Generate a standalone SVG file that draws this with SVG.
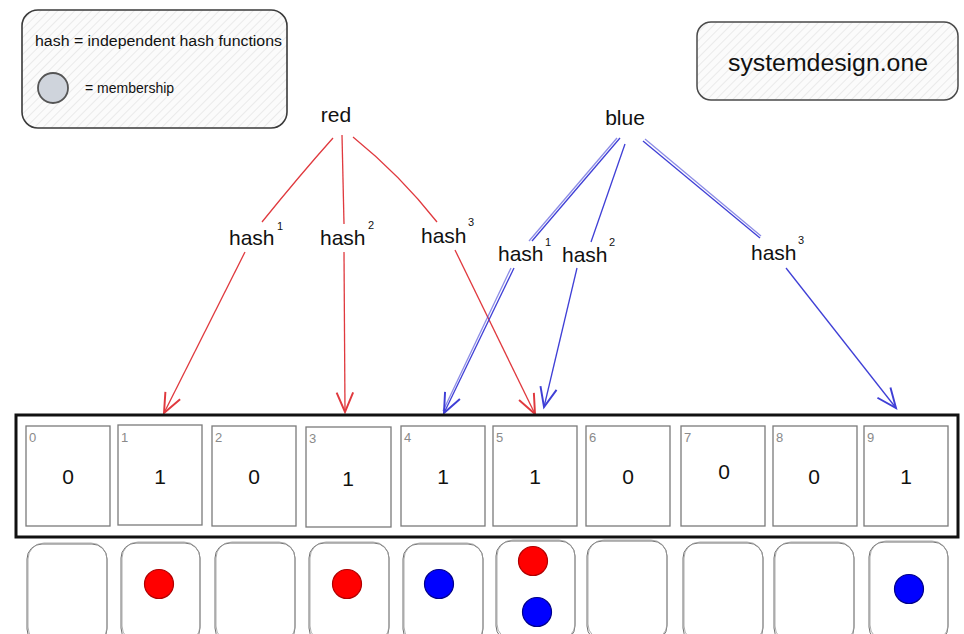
<svg xmlns="http://www.w3.org/2000/svg" width="964" height="634" viewBox="0 0 964 634">
  <defs>
    <pattern id="hatch" patternUnits="userSpaceOnUse" width="6" height="6" patternTransform="rotate(45)">
      <line x1="0" y1="0" x2="0" y2="6" stroke="#d9d9d9" stroke-width="1"/>
    </pattern>
    <marker id="head-red" markerUnits="userSpaceOnUse" markerWidth="30" markerHeight="30" viewBox="-16 -10 20 20" refX="0" refY="0" orient="auto">
      <path d="M-13,-5.5 L0,0 L-13,5.5" fill="none" stroke="#e0393e" stroke-width="1.3"/>
    </marker>
    <marker id="head-blue" markerUnits="userSpaceOnUse" markerWidth="30" markerHeight="30" viewBox="-16 -10 20 20" refX="0" refY="0" orient="auto">
      <path d="M-13,-5.5 L0,0 L-13,5.5" fill="none" stroke="#3f3fd6" stroke-width="1.3"/>
    </marker>
  </defs>
  <style>
    text { font-family: "Liberation Sans", Arial, sans-serif; fill: #111; }
    .label { font-size: 21px; }
    .sup { font-size: 11px; }
    .idx { font-size: 13px; fill: #8a8a8a; }
    .val { font-size: 21px; text-anchor: middle; }
    .cell { fill: #fff; stroke: #7a7a7a; stroke-width: 1.3; }
    .slot { fill: #fff; stroke: #707070; stroke-width: 1; }
    .slot2 { fill: none; stroke: #9a9a9a; stroke-width: 0.8; }
    .red-line { fill: none; stroke: #e0393e; stroke-width: 1.3; }
    .blue-line { fill: none; stroke: #3f3fd6; stroke-width: 1.3; }
    .red-dot { fill: #ff0000; stroke: #b00000; stroke-width: 1.2; }
    .blue-dot { fill: #0000ff; stroke: #00008a; stroke-width: 1.2; }
  </style>

  <rect width="964" height="634" fill="#fff"/>

  <!-- legend -->
  <g id="legend">
    <rect x="22" y="10" width="265" height="118" rx="16" fill="#fbfbfb"/>
    <rect x="22" y="10" width="265" height="118" rx="16" fill="url(#hatch)" stroke="#3a3a3a" stroke-width="1.6"/>
    <text x="35" y="46" font-size="14" textLength="247" lengthAdjust="spacingAndGlyphs">hash = independent hash functions</text>
    <circle cx="53" cy="88" r="15" fill="#cfd4dc" stroke="#555" stroke-width="1.8"/>
    <text x="85" y="93" font-size="14">= membership</text>
  </g>

  <!-- site tag -->
  <g id="brand">
    <rect x="697" y="22" width="261" height="78" rx="14" fill="#fbfbfb"/>
    <rect x="697" y="22" width="261" height="78" rx="14" fill="url(#hatch)" stroke="#4a4a4a" stroke-width="1.5"/>
    <text x="828" y="71" font-size="23" text-anchor="middle" textLength="200" lengthAdjust="spacingAndGlyphs">systemdesign.one</text>
  </g>

  <!-- input keys -->
  <g id="key-red"><text class="label" x="336" y="122" text-anchor="middle" font-size="22">red</text></g>
  <g id="key-blue"><text class="label" x="625" y="125" text-anchor="middle" font-size="22">blue</text></g>

  <!-- hash function labels -->
  <g id="red-hash1"><text class="label" x="229" y="245">hash</text><text class="sup" x="277" y="230">1</text></g>
  <g id="red-hash2"><text class="label" x="320" y="245">hash</text><text class="sup" x="368" y="229">2</text></g>
  <g id="red-hash3"><text class="label" x="421" y="243">hash</text><text class="sup" x="468" y="226">3</text></g>
  <g id="blue-hash1"><text class="label" x="498" y="261">hash</text><text class="sup" x="545" y="246">1</text></g>
  <g id="blue-hash2"><text class="label" x="562" y="262">hash</text><text class="sup" x="609" y="246">2</text></g>
  <g id="blue-hash3"><text class="label" x="751" y="260">hash</text><text class="sup" x="798" y="244">3</text></g>

  <!-- connectors -->
  <g id="connectors">
    <path class="red-line" d="M333,138 Q300,175 262,222"/>
    <path class="red-line" d="M245,252 L164,413" marker-end="url(#head-red)"/>
    <path class="red-line" d="M342,135 L344,224"/>
    <path class="red-line" d="M344,252 L345,412" marker-end="url(#head-red)"/>
    <path class="red-line" d="M353,137 Q400,175 437,222"/>
    <path class="red-line" d="M455,250 L535,414" marker-end="url(#head-red)"/>

    <path class="blue-line" d="M620,138 L532,241"/>
    <path class="blue-line" d="M617,138 L529,241" stroke-opacity="0.6"/>
    <path class="blue-line" d="M514,268 L444,413" marker-end="url(#head-blue)"/>
    <path class="blue-line" d="M511,268 L443,411" stroke-opacity="0.6"/>
    <path class="blue-line" d="M625,144 L591,242"/>
    <path class="blue-line" d="M577,268 L544,407" marker-end="url(#head-blue)"/>
    <path class="blue-line" d="M643,141 L760,238"/>
    <path class="blue-line" d="M645,139 L761,236" stroke-opacity="0.6"/>
    <path class="blue-line" d="M786,268 L896,408" marker-end="url(#head-blue)"/>
  </g>

  <!-- bit array -->
  <g id="bit-array">
    <rect x="16" y="415" width="942" height="122" fill="#fff" stroke="#111" stroke-width="3"/>
  </g>
  <g id="bit-0"><rect class="cell" x="26" y="426" width="84" height="100"/><text class="idx" x="29" y="442">0</text><text class="val" x="68" y="484">0</text></g>
  <g id="bit-1"><rect class="cell" x="118" y="425" width="84" height="100"/><text class="idx" x="121" y="442">1</text><text class="val" x="160" y="484">1</text></g>
  <g id="bit-2"><rect class="cell" x="212" y="426" width="84" height="100"/><text class="idx" x="215" y="442">2</text><text class="val" x="254" y="484">0</text></g>
  <g id="bit-3"><rect class="cell" x="306" y="427" width="85" height="100"/><text class="idx" x="309" y="443">3</text><text class="val" x="348" y="486">1</text></g>
  <g id="bit-4"><rect class="cell" x="401" y="426" width="84" height="100"/><text class="idx" x="404" y="442">4</text><text class="val" x="443" y="484">1</text></g>
  <g id="bit-5"><rect class="cell" x="493" y="426" width="84" height="100"/><text class="idx" x="496" y="442">5</text><text class="val" x="535" y="484">1</text></g>
  <g id="bit-6"><rect class="cell" x="586" y="426" width="84" height="100"/><text class="idx" x="589" y="442">6</text><text class="val" x="628" y="484">0</text></g>
  <g id="bit-7"><rect class="cell" x="681" y="426" width="84" height="100"/><text class="idx" x="684" y="442">7</text><text class="val" x="724" y="479">0</text></g>
  <g id="bit-8"><rect class="cell" x="773" y="426" width="84" height="100"/><text class="idx" x="776" y="442">8</text><text class="val" x="814" y="484">0</text></g>
  <g id="bit-9"><rect class="cell" x="864" y="426" width="84" height="100"/><text class="idx" x="867" y="442">9</text><text class="val" x="906" y="484">1</text></g>

  <!-- membership slots -->
  <g id="slot-0"><rect class="slot" x="27" y="544" width="80" height="100" rx="15"/><rect class="slot2" x="28" y="543" width="79" height="100" rx="16"/></g>
  <g id="slot-1"><rect class="slot" x="121" y="543" width="79" height="100" rx="15"/><rect class="slot2" x="122" y="542" width="78" height="100" rx="16"/>
    <circle class="red-dot" cx="159" cy="584" r="14.5"/></g>
  <g id="slot-2"><rect class="slot" x="215" y="543" width="80" height="100" rx="15"/><rect class="slot2" x="216" y="542" width="79" height="100" rx="16"/></g>
  <g id="slot-3"><rect class="slot" x="309" y="543" width="80" height="100" rx="15"/><rect class="slot2" x="310" y="542" width="79" height="100" rx="16"/>
    <circle class="red-dot" cx="347" cy="584" r="14.5"/></g>
  <g id="slot-4"><rect class="slot" x="403" y="544" width="80" height="100" rx="15"/><rect class="slot2" x="404" y="543" width="79" height="100" rx="16"/>
    <circle class="blue-dot" cx="439" cy="584" r="14.5"/></g>
  <g id="slot-5"><rect class="slot" x="496" y="541" width="79" height="100" rx="15"/><rect class="slot2" x="497" y="540" width="78" height="100" rx="16"/>
    <circle class="red-dot" cx="533" cy="561" r="14.5"/>
    <circle class="blue-dot" cx="537" cy="612" r="14.5"/></g>
  <g id="slot-6"><rect class="slot" x="587" y="541" width="80" height="100" rx="15"/><rect class="slot2" x="588" y="540" width="79" height="100" rx="16"/></g>
  <g id="slot-7"><rect class="slot" x="683" y="543" width="80" height="100" rx="15"/><rect class="slot2" x="684" y="542" width="79" height="100" rx="16"/></g>
  <g id="slot-8"><rect class="slot" x="774" y="543" width="80" height="100" rx="15"/><rect class="slot2" x="775" y="542" width="79" height="100" rx="16"/></g>
  <g id="slot-9"><rect class="slot" x="869" y="542" width="79" height="100" rx="15"/><rect class="slot2" x="870" y="541" width="78" height="100" rx="16"/>
    <circle class="blue-dot" cx="909" cy="589" r="14.5"/></g>
</svg>
